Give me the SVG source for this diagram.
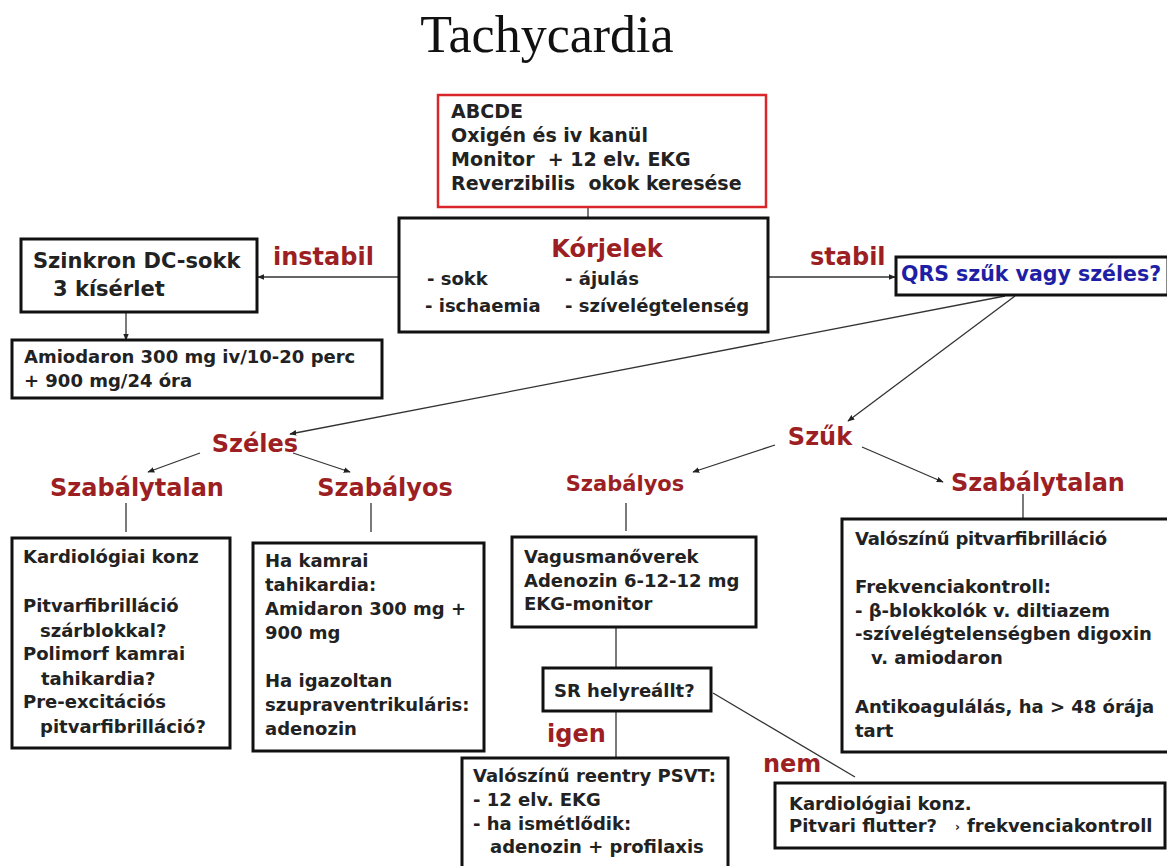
<svg xmlns="http://www.w3.org/2000/svg" width="1167" height="866" viewBox="0 0 1167 866">
<defs>
<marker id="ah" viewBox="0 0 10 10" refX="9" refY="5" markerWidth="7" markerHeight="7" orient="auto" markerUnits="userSpaceOnUse"><path d="M0,1 L10,5 L0,9 z" fill="#222"/></marker>
<style>
.box{fill:#fff;stroke:#111;stroke-width:3}
.rbox{fill:#fff;stroke:#d9262b;stroke-width:2.5}
.t{font-family:"DejaVu Sans",Verdana,sans-serif;font-weight:bold;font-size:18px;fill:#222}
.red{font-family:"DejaVu Sans",Verdana,sans-serif;font-weight:bold;font-size:24px;fill:#9c1f24}
.blue{font-family:"DejaVu Sans",Verdana,sans-serif;font-weight:bold;font-size:20.5px;fill:#1f1fa6}
.ln{stroke:#333;stroke-width:1.3;fill:none}
.ar{stroke:#333;stroke-width:1.3;fill:none;marker-end:url(#ah)}
</style>
</defs>
<rect width="1167" height="866" fill="#fff"/>
<text x="547" y="52" text-anchor="middle" font-family="Liberation Serif,serif" font-size="52" fill="#111">Tachycardia</text>

<g id="connectors">
<line class="ln" x1="588" y1="207" x2="588" y2="218"/>
<line class="ar" x1="398" y1="277" x2="258" y2="277"/>
<line class="ar" x1="126" y1="304" x2="126" y2="340"/>
<line class="ar" x1="768" y1="277" x2="895" y2="277"/>
<line class="ar" x1="1005" y1="296" x2="290" y2="434"/>
<line class="ar" x1="1015" y1="296" x2="848" y2="421"/>
<line class="ar" x1="200" y1="453" x2="148" y2="472"/>
<line class="ar" x1="293" y1="453" x2="350" y2="472"/>
<line class="ar" x1="775" y1="445" x2="693" y2="472"/>
<line class="ar" x1="862" y1="447" x2="943" y2="482"/>
<line class="ln" x1="126" y1="503" x2="126" y2="532"/>
<line class="ln" x1="371" y1="503" x2="371" y2="532"/>
<line class="ln" x1="626" y1="503" x2="626" y2="531"/>
<line class="ln" x1="1023" y1="494" x2="1023" y2="519"/>
<line class="ln" x1="616" y1="627" x2="616" y2="668"/>
<line class="ln" x1="616" y1="711" x2="616" y2="758"/>
<line class="ln" x1="713" y1="693" x2="855" y2="777"/>
</g>

<g id="edge-labels">
<text class="red" x="273" y="265">instabil</text>
<text class="red" x="810" y="265">stabil</text>
<text class="red" x="547" y="742">igen</text>
<text class="red" x="763" y="772">nem</text>
</g>

<g id="n-abcde">
<rect class="rbox" x="438" y="95" width="328" height="112"/>
<text class="t" x="451" y="118" style="font-size:19px">ABCDE</text>
<text class="t" x="451" y="142" style="font-size:19px">Oxigén és iv kanül</text>
<text class="t" x="451" y="166" style="font-size:19px" xml:space="preserve">Monitor  + 12 elv. EKG</text>
<text class="t" x="451" y="190" style="font-size:19px" xml:space="preserve">Reverzibilis  okok keresése</text>
</g>

<g id="n-korjelek">
<rect class="box" x="399" y="218" width="369" height="114"/>
<text class="red" x="607" y="257" text-anchor="middle">Kórjelek</text>
<text class="t" x="427" y="285">- sokk</text>
<text class="t" x="565" y="285">- ájulás</text>
<text class="t" x="425" y="312">- ischaemia</text>
<text class="t" x="565" y="312">- szívelégtelenség</text>
</g>

<g id="n-szinkron">
<rect class="box" x="21" y="239" width="236" height="73"/>
<text class="t" x="33" y="268" style="font-size:21px">Szinkron DC-sokk</text>
<text class="t" x="53" y="296" style="font-size:21px">3 kísérlet</text>
</g>

<g id="n-amiodaron">
<rect class="box" x="12" y="340" width="370" height="58"/>
<text class="t" x="24" y="363">Amiodaron 300 mg iv/10-20 perc</text>
<text class="t" x="24" y="387">+ 900 mg/24 óra</text>
</g>

<g id="n-qrs">
<rect class="box" x="896" y="257" width="272" height="38"/>
<text class="blue" x="901" y="281">QRS szűk vagy széles?</text>
</g>

<g id="n-szeles"><text class="red" x="255" y="452" text-anchor="middle">Széles</text></g>
<g id="n-szuk"><text class="red" x="820" y="445" text-anchor="middle">Szűk</text></g>
<g id="n-szeles-szabalytalan"><text class="red" x="137" y="496" text-anchor="middle">Szabálytalan</text></g>
<g id="n-szeles-szabalyos"><text class="red" x="385" y="496" text-anchor="middle">Szabályos</text></g>
<g id="n-szuk-szabalyos"><text class="red" x="625" y="491" text-anchor="middle" style="font-size:21px">Szabályos</text></g>
<g id="n-szuk-szabalytalan"><text class="red" x="1038" y="491" text-anchor="middle">Szabálytalan</text></g>

<g id="n-kardio1">
<rect class="box" x="12" y="538" width="218" height="210"/>
<text class="t" x="23" y="563">Kardiológiai konz</text>
<text class="t" x="23" y="612">Pitvarfibrilláció</text>
<text class="t" x="40" y="637">szárblokkal?</text>
<text class="t" x="23" y="660">Polimorf kamrai</text>
<text class="t" x="41" y="685">tahikardia?</text>
<text class="t" x="23" y="708">Pre-excitációs</text>
<text class="t" x="40" y="733">pitvarfibrilláció?</text>
</g>

<g id="n-hakamrai">
<rect class="box" x="253" y="543" width="231" height="208"/>
<text class="t" x="265" y="567">Ha kamrai</text>
<text class="t" x="265" y="591">tahikardia:</text>
<text class="t" x="265" y="615">Amidaron 300 mg +</text>
<text class="t" x="265" y="639">900 mg</text>
<text class="t" x="265" y="687">Ha igazoltan</text>
<text class="t" x="265" y="711">szupraventrikuláris:</text>
<text class="t" x="265" y="735">adenozin</text>
</g>

<g id="n-vagus">
<rect class="box" x="512" y="537" width="244" height="90"/>
<text class="t" x="524" y="563">Vagusmanőverek</text>
<text class="t" x="524" y="587">Adenozin 6-12-12 mg</text>
<text class="t" x="524" y="610">EKG-monitor</text>
</g>

<g id="n-sr">
<rect class="box" x="543" y="668" width="168" height="43"/>
<text class="t" x="554" y="697">SR helyreállt?</text>
</g>

<g id="n-psvt">
<rect class="box" x="462" y="758" width="266" height="112"/>
<text class="t" x="473" y="782">Valószínű reentry PSVT:</text>
<text class="t" x="473" y="806">- 12 elv. EKG</text>
<text class="t" x="473" y="830">- ha ismétlődik:</text>
<text class="t" x="490" y="853">adenozin + profilaxis</text>
</g>

<g id="n-pitvarfib">
<rect class="box" x="842" y="519" width="330" height="233"/>
<text class="t" x="855" y="545" textLength="252">Valószínű pitvarfibrilláció</text>
<text class="t" x="855" y="593">Frekvenciakontroll:</text>
<text class="t" x="855" y="617">- β-blokkolók v. diltiazem</text>
<text class="t" x="855" y="640">-szívelégtelenségben digoxin</text>
<text class="t" x="871" y="664">v. amiodaron</text>
<text class="t" x="855" y="713">Antikoagulálás, ha &gt; 48 órája</text>
<text class="t" x="855" y="737">tart</text>
</g>

<g id="n-kardio2">
<rect class="box" x="775" y="783" width="390" height="65"/>
<text class="t" x="789" y="810">Kardiológiai konz.</text>
<text class="t" x="789" y="832">Pitvari flutter?</text>
<text class="t" x="955" y="831" style="font-size:12px">›</text>
<text class="t" x="967" y="832">frekvenciakontroll</text>
</g>
</svg>
